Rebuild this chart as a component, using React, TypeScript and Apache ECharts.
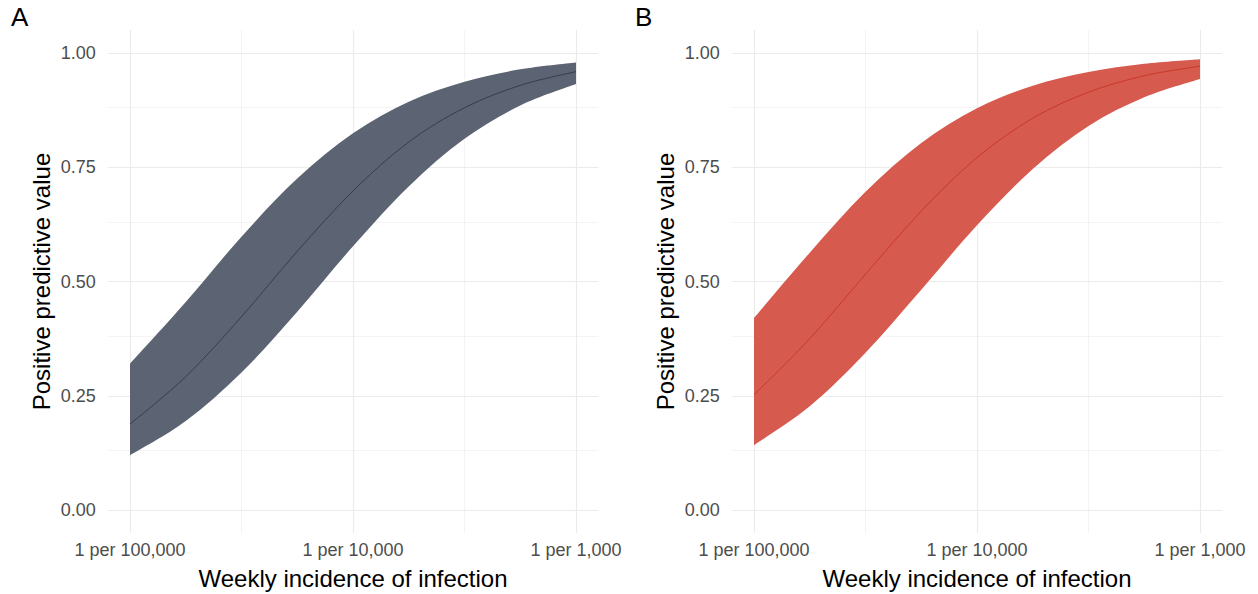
import React, { useEffect, useRef } from "react";
import * as echarts from "echarts";

// log10 of weekly incidence
const xLog = [-5, -4.75, -4.5, -4.25, -4, -3.75, -3.5, -3.25, -3];
const xTickValues = [-5, -4, -3];
const xTickLabels = ["1 per 100,000", "1 per 10,000", "1 per 1,000"];
const yTickValues = [0, 0.25, 0.5, 0.75, 1];

const aMid = [0.188, 0.292, 0.423, 0.566, 0.698, 0.805, 0.88, 0.929, 0.959];
const aUpper = [0.32, 0.455, 0.598, 0.725, 0.824, 0.893, 0.937, 0.964, 0.979];
const aLower = [0.12, 0.195, 0.301, 0.434, 0.577, 0.708, 0.812, 0.885, 0.932];

const bMid = [0.252, 0.375, 0.516, 0.654, 0.771, 0.857, 0.914, 0.95, 0.971];
const bUpper = [0.42, 0.563, 0.696, 0.803, 0.879, 0.928, 0.958, 0.976, 0.986];
const bLower = [0.142, 0.227, 0.344, 0.482, 0.623, 0.746, 0.84, 0.903, 0.943];

const FONT = "'Liberation Sans', Arial, Helvetica, sans-serif";
const GRID_COLOR = "#ebebeb";

// Catmull-Rom spline through pixel points, as SVG path commands (without initial M)
function splineSegs(pts: number[][]): string {
  let d = "";
  const n = pts.length;
  for (let i = 0; i < n - 1; i++) {
    const p0 = pts[Math.max(0, i - 1)];
    const p1 = pts[i];
    const p2 = pts[i + 1];
    const p3 = pts[Math.min(n - 1, i + 2)];
    const c1x = p1[0] + (p2[0] - p0[0]) / 6;
    const c1y = p1[1] + (p2[1] - p0[1]) / 6;
    const c2x = p2[0] - (p3[0] - p1[0]) / 6;
    const c2y = p2[1] - (p3[1] - p1[1]) / 6;
    d += ` C ${c1x} ${c1y} ${c2x} ${c2y} ${p2[0]} ${p2[1]}`;
  }
  return d;
}

export default function App() {
  const ref = useRef<HTMLDivElement>(null);
  useEffect(() => {
    if (!ref.current) return;
    const chart = echarts.init(ref.current, undefined, { renderer: "svg" });

    const panels = [
      { left: 107.7, mid: aMid, up: aUpper, lo: aLower, fill: "#5c6372", line: "#2c3344", tag: "A", tagX: 11, yTitleX: 41 },
      { left: 731.7, mid: bMid, up: bUpper, lo: bLower, fill: "#d75a4e", line: "#c4301f", tag: "B", tagX: 635, yTitleX: 665 },
    ];
    const width = 490.6;

    const grids: any[] = [];
    const xAxes: any[] = [];
    const yAxes: any[] = [];
    const series: any[] = [];
    const graphics: any[] = [];

    const xGridVals = [-5, -4.5, -4, -3.5, -3];
    const yGridVals = [0, 0.125, 0.25, 0.375, 0.5, 0.625, 0.75, 0.875, 1];

    panels.forEach((p, i) => {
      grids.push({ left: p.left, top: 30, width, height: 503, containLabel: false });
      xAxes.push({
        type: "value",
        gridIndex: i,
        min: -5.1,
        max: -2.9,
        axisLine: { show: false },
        axisTick: { show: false },
        splitLine: { show: false },
        axisLabel: {
          customValues: xTickValues,
          margin: 8,
          color: "#4d4d4d",
          fontSize: 18,
          fontFamily: FONT,
          formatter: (v: number) => {
            const k = xTickValues.findIndex((t) => Math.abs(t - v) < 1e-9);
            return k >= 0 ? xTickLabels[k] : "";
          },
        },
      });
      yAxes.push({
        type: "value",
        gridIndex: i,
        min: -0.05,
        max: 1.05,
        axisLine: { show: false },
        axisTick: { show: false },
        splitLine: { show: false },
        axisLabel: {
          customValues: yTickValues,
          margin: 12,
          color: "#4d4d4d",
          fontSize: 18,
          fontFamily: FONT,
          formatter: (v: number) => v.toFixed(2),
        },
      });

      const mlData: any[] = [];
      xGridVals.forEach((v, k) =>
        mlData.push({ xAxis: v, lineStyle: { color: GRID_COLOR, width: k % 2 === 0 ? 1.1 : 0.55, type: "solid" } })
      );
      yGridVals.forEach((v, k) =>
        mlData.push({ yAxis: v, lineStyle: { color: GRID_COLOR, width: k % 2 === 0 ? 1.1 : 0.55, type: "solid" } })
      );
      series.push({
        type: "line",
        xAxisIndex: i,
        yAxisIndex: i,
        data: [[-5, 0]],
        showSymbol: false,
        lineStyle: { opacity: 0 },
        z: 1,
        silent: true,
        markLine: {
          z: 1,
          silent: true,
          symbol: ["none", "none"],
          label: { show: false },
          data: mlData,
        },
      });

      const rows = xLog.map((x, k) => [x, p.lo[k], p.up[k], p.mid[k]]);
      series.push({
        type: "custom",
        xAxisIndex: i,
        yAxisIndex: i,
        data: rows,
        encode: { x: 0, y: [1, 2, 3] },
        z: 3,
        silent: true,
        renderItem: (params: any, api: any) => {
          if (params.dataIndex !== 0) return { type: "group", children: [] };
          const upPts = rows.map((r) => api.coord([r[0], r[2]]));
          const loPts = rows.map((r) => api.coord([r[0], r[1]])).reverse();
          const midPts = rows.map((r) => api.coord([r[0], r[3]]));
          const band =
            `M ${upPts[0][0]} ${upPts[0][1]}` +
            splineSegs(upPts) +
            ` L ${loPts[0][0]} ${loPts[0][1]}` +
            splineSegs(loPts) +
            " Z";
          const midD = `M ${midPts[0][0]} ${midPts[0][1]}` + splineSegs(midPts);
          return {
            type: "group",
            children: [
              { type: "path", shape: { pathData: band }, style: { fill: p.fill, stroke: "none" } },
              { type: "path", shape: { pathData: midD }, style: { fill: "none", stroke: p.line, lineWidth: 0.8 } },
            ],
          };
        },
      });

      graphics.push({
        type: "text",
        left: p.tagX,
        top: 4,
        style: { text: p.tag, fontSize: 26, fontFamily: FONT, fill: "#000" },
      });
      graphics.push({
        type: "text",
        x: p.left + width / 2,
        y: 578,
        style: {
          text: "Weekly incidence of infection",
          fontSize: 24,
          fontFamily: FONT,
          fill: "#000",
          align: "center",
          verticalAlign: "middle",
        },
      });
      graphics.push({
        type: "text",
        x: p.yTitleX,
        y: 281.5,
        rotation: Math.PI / 2,
        style: {
          text: "Positive predictive value",
          fontSize: 24,
          fontFamily: FONT,
          fill: "#000",
          align: "center",
          verticalAlign: "middle",
        },
      });
    });

    chart.setOption({
      animation: false,
      backgroundColor: "#ffffff",
      grid: grids,
      xAxis: xAxes,
      yAxis: yAxes,
      series,
      graphic: graphics,
    });
    return () => chart.dispose();
  }, []);

  return (
    <div
      ref={ref}
      style={{ position: "fixed", left: 0, top: 0, width: 1258, height: 594 }}
    />
  );
}
